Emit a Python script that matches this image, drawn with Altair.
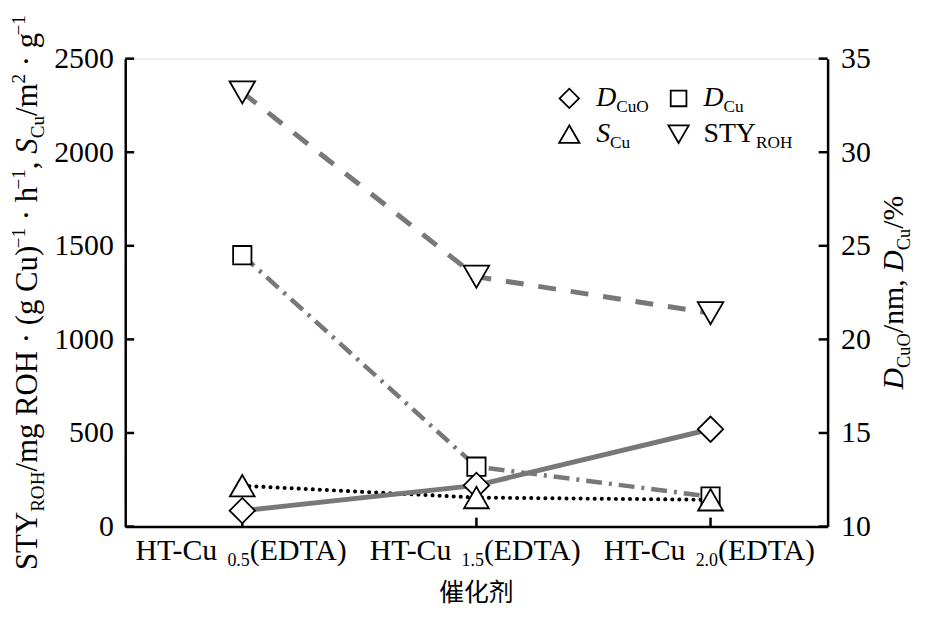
import altair as alt
import pandas as pd

# ---------------- data ----------------
cats = ["HT-Cu0.5(EDTA)", "HT-Cu1.5(EDTA)", "HT-Cu2.0(EDTA)"]
label_head = "HT-Cu "
label_sub = ["0.5", "1.5", "2.0"]
label_tail = "(EDTA)"
sty_roh = [2320, 1335, 1140]      # left axis
s_cu = [218, 155, 143]            # left axis
d_cuo = [10.85, 12.2, 15.2]       # right axis
d_cu = [24.5, 13.2, 11.6]         # right axis
left_ticks = [0, 500, 1000, 1500, 2000, 2500]
right_ticks = [10, 15, 20, 25, 30, 35]
x_title = "催化剂"

df = pd.DataFrame({"cat": cats, "sub": label_sub, "sty": sty_roh,
                   "scu": s_cu, "dcuo": d_cuo, "dcu": d_cu})
df_lt = pd.DataFrame({"v": left_ticks})
df_rt = pd.DataFrame({"v": right_ticks})

# ---------------- style ----------------
W, H = 707, 471
FONT = "Liberation Serif"
F = 30
GRAY = "#787878"

TIMES = {' ': 250, '(': 333, ')': 333, ',': 250, '-': 333, '.': 250, '/': 278,
         '%': 833, 'A': 722, 'C': 667, 'D': 722, 'E': 611, 'H': 722, 'O': 722,
         'R': 667, 'S': 556, 'T': 611, 'U': 722, 'Y': 722, 'g': 500, 'h': 500,
         'm': 778, 'n': 500, 'u': 500, '·': 250, '−': 564}
ITAL = {'D': 722, 'S': 500}


def tw(s, size, italic=False):
    tot = 0
    for c in s:
        if italic and c in ITAL:
            tot += ITAL[c]
        else:
            tot += TIMES.get(c, 500)
    return tot / 1000.0 * size


ONE = alt.InlineData(values=[{"k": 0}])


def rich(pieces, f, base, start, vertical, center=False):
    """pieces: list of (text, kind, italic); kind in n/sub/sup."""
    info = []
    for t, kind, it in pieces:
        size = f if kind == "n" else f * 0.62
        shift = 0 if kind == "n" else (0.22 * f if kind == "sub" else -0.38 * f)
        info.append((t, size, shift, it, tw(t, size, it)))
    total = sum(i[4] for i in info)
    cum = -total / 2 if center else 0
    layers = []
    for t, size, shift, it, w in info:
        s1 = t.lstrip(" ")
        lead = tw(t[:len(t) - len(s1)], size)
        s2 = s1.rstrip(" ")
        a = cum + lead
        if s2:
            if vertical:
                x, y, ang = base + shift, start - a, 270
            else:
                x, y, ang = start + a, base + shift, 0
            layers.append(
                alt.Chart(ONE).mark_text(
                    text=s2, font=FONT, fontSize=size,
                    fontStyle="italic" if it else "normal",
                    align="left", baseline="alphabetic", angle=ang, color="black"
                ).encode(x=alt.value(x), y=alt.value(y))
            )
        cum += w
    return layers


# ---------------- scales / axes ----------------
xscale = alt.Scale(type="point", domain=cats, padding=0.5)
xaxis = alt.Axis(labels=False, ticks=False, title=None, domainColor="black",
                 domainWidth=2.5, grid=False)
lscale = alt.Scale(domain=[0, 2500], nice=False, zero=False)
rscale = alt.Scale(domain=[10, 35], nice=False, zero=False)
laxis = alt.Axis(orient="left", values=left_ticks, format="d", ticks=False, labelFont=FONT,
                 labelFontSize=F, labelColor="black", labelPadding=12,
                 domainColor="black", domainWidth=2.5, grid=False, title=None)
raxis = alt.Axis(orient="right", values=right_ticks, format="d", ticks=False, labelFont=FONT,
                 labelFontSize=F, labelColor="black", labelPadding=13,
                 domainColor="black", domainWidth=2.5, grid=False, title=None)

X = alt.X("cat:N", scale=xscale, axis=xaxis)
base = alt.Chart(df)

line_sty = base.mark_line(color=GRAY, strokeWidth=5, strokeDash=[18, 15]).encode(
    x=X, y=alt.Y("sty:Q", scale=lscale, axis=laxis))
line_scu = base.mark_line(color="black", strokeWidth=4, strokeDash=[0.1, 7],
                          strokeCap="round").encode(
    x=X, y=alt.Y("scu:Q", scale=lscale, axis=None))
line_dcuo = base.mark_line(color=GRAY, strokeWidth=5).encode(
    x=X, y=alt.Y("dcuo:Q", scale=rscale, axis=raxis))
line_dcu = base.mark_line(color=GRAY, strokeWidth=4.5, strokeDash=[16, 7, 3, 7]).encode(
    x=X, y=alt.Y("dcu:Q", scale=rscale, axis=None))

tick_l = alt.Chart(df_lt).mark_rule(color="black", strokeWidth=2.5).encode(
    y=alt.Y("v:Q", scale=lscale, axis=None), x=alt.value(0), x2=alt.value(9))
tick_r = alt.Chart(df_rt).mark_rule(color="black", strokeWidth=2.5).encode(
    y=alt.Y("v:Q", scale=rscale, axis=None), x=alt.value(W - 9), x2=alt.value(W))
tick_b = base.mark_rule(color="black", strokeWidth=2.5).encode(
    x=X, y=alt.value(H), y2=alt.value(H - 9))


def pts(field, scale, shape, size):
    return base.mark_point(shape=shape, size=size, filled=True, fill="white",
                           stroke="black", strokeWidth=1.8, opacity=1).encode(
        x=X, y=alt.Y(f"{field}:Q", scale=scale, axis=None))


p_dcu = pts("dcu", rscale, "square", 340)
p_dcuo = pts("dcuo", rscale, "diamond", 650)
p_scu = pts("scu", lscale, "triangle-up", 620)
p_sty = pts("sty", lscale, "triangle-down", 660)

# ---------------- x tick labels (with subscripts) ----------------
w_head = tw(label_head, F)
w_sub = tw(label_sub[0], F * 0.6)
w_tail = tw(label_tail, F)
w_all = w_head + w_sub + w_tail
LBY = H + 34
lab_head = base.mark_text(text=label_head.strip(), font=FONT, fontSize=F, align="left",
                          baseline="alphabetic", color="black", dx=-w_all / 2).encode(
    x=X, y=alt.value(LBY))
lab_sub = base.mark_text(font=FONT, fontSize=F * 0.6, align="left",
                         baseline="alphabetic", color="black",
                         dx=-w_all / 2 + w_head).encode(
    x=X, y=alt.value(LBY + 0.2 * F), text="sub:N")
lab_tail = base.mark_text(text=label_tail, font=FONT, fontSize=F, align="left",
                          baseline="alphabetic", color="black",
                          dx=-w_all / 2 + w_head + w_sub).encode(
    x=X, y=alt.value(LBY))
xtitle = alt.Chart(ONE).mark_text(text=x_title, font="Noto Sans CJK SC", fontSize=25,
                                  align="center", baseline="middle", color="black").encode(
    x=alt.value(W / 2), y=alt.value(H + 67))

# ---------------- axis titles ----------------
left_title = rich([
    ("STY", "n", False), ("ROH", "sub", False), ("/mg ROH · (g Cu)", "n", False),
    ("−1", "sup", False), (" · h", "n", False), ("−1", "sup", False), (", ", "n", False),
    ("S", "n", True), ("Cu", "sub", False), ("/m", "n", False), ("2", "sup", False),
    (" · g", "n", False), ("−1", "sup", False)],
    31, -89, H / 2, vertical=True, center=True)
right_title = rich([
    ("D", "n", True), ("CuO", "sub", False), ("/nm, ", "n", False),
    ("D", "n", True), ("Cu", "sub", False), ("/%", "n", False)],
    F, W + 76, H / 2, vertical=True, center=True)

# ---------------- legend ----------------
LF = 28


def lsym(shape, size, x, y):
    return alt.Chart(ONE).mark_point(shape=shape, size=size, filled=True, fill="white",
                                     stroke="black", strokeWidth=1.8, opacity=1).encode(
        x=alt.value(x), y=alt.value(y))


legend = [
    lsym("diamond", 380, 447, 40), lsym("square", 250, 557, 40),
    lsym("triangle-up", 420, 447, 76), lsym("triangle-down", 420, 557, 76),
]
legend += rich([("D", "n", True), ("CuO", "sub", False)], LF, 48, 474, vertical=False)
legend += rich([("D", "n", True), ("Cu", "sub", False)], LF, 48, 582, vertical=False)
legend += rich([("S", "n", True), ("Cu", "sub", False)], LF, 84, 474, vertical=False)
legend += rich([("STY", "n", False), ("ROH", "sub", False)], LF, 84, 582, vertical=False)

layers = [line_sty, line_scu, line_dcuo, line_dcu, tick_l, tick_r, tick_b,
          p_dcu, p_dcuo, p_scu, p_sty, lab_head, lab_sub, lab_tail, xtitle]
layers += left_title + right_title + legend

chart = alt.layer(*layers).resolve_scale(y="independent").properties(
    width=W, height=H,
    padding={"left": 118, "top": 49, "right": 92, "bottom": 80},
    autosize=alt.AutoSizeParams(type="none"),
).configure_view(stroke=None).configure(background="white")

chart.save("out.html", embed_options={"renderer": "svg", "actions": False})
